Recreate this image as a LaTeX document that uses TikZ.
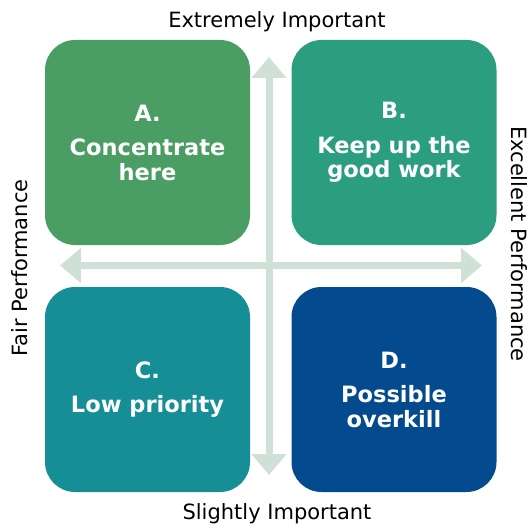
\documentclass[tikz,border=0pt]{standalone}
\usepackage{fontspec}
\setmainfont{DejaVu Sans}
\usetikzlibrary{arrows.meta}
\definecolor{cA}{HTML}{4A9E63}
\definecolor{cB}{HTML}{2B9E80}
\definecolor{cC}{HTML}{168E96}
\definecolor{cD}{HTML}{044A8E}
\definecolor{axis}{HTML}{CFE0D6}
\tikzset{
  quad/.style={fill=#1, rounded corners=30pt, minimum width=205pt, minimum height=205pt,
    inner sep=0pt, text=white, align=center, font=\bfseries\fontsize{22.5}{24.5}\selectfont},
  axisarrow/.style={draw=axis, line width=7pt,
    {Triangle[width=34pt,length=21pt]}-{Triangle[width=34pt,length=21pt]}},
  axlabel/.style={font=\fontsize{21}{24}\selectfont, inner sep=0pt}
}
\begin{document}
\begin{tikzpicture}[x=1pt,y=-1pt]
\useasboundingbox (0,0) rectangle (531,527);
\coordinate (top) at (269,57);
\coordinate (bot) at (269,475);
\coordinate (lft) at (60,265.5);
\coordinate (rgt) at (482,265.5);
\draw[axisarrow] (bot) -- (top);
\draw[axisarrow] (lft) -- (rgt);
\node[quad=cA] (A) at (147.5,142.5) {A.\\[10pt]Concentrate\\here};
\node[quad=cB] (B) at (394,142.5) {B.\\[10pt]Keep up the\\good work};
\node[quad=cC] (C) at (147.5,389.5) {C.\\[10pt]Low priority};
\node[quad=cD] (D) at (394,389.5) {D.\\[10pt]Possible\\overkill};
\node[axlabel, anchor=base] (ei) at (277,28) {Extremely Important};
\node[axlabel, anchor=base] (si) at (277,519) {Slightly Important};
\node[axlabel, rotate=90] (fp) at (20,268) {Fair Performance};
\node[axlabel, rotate=-90] (ep) at (519,244) {Excellent Performance};
\end{tikzpicture}
\end{document}
